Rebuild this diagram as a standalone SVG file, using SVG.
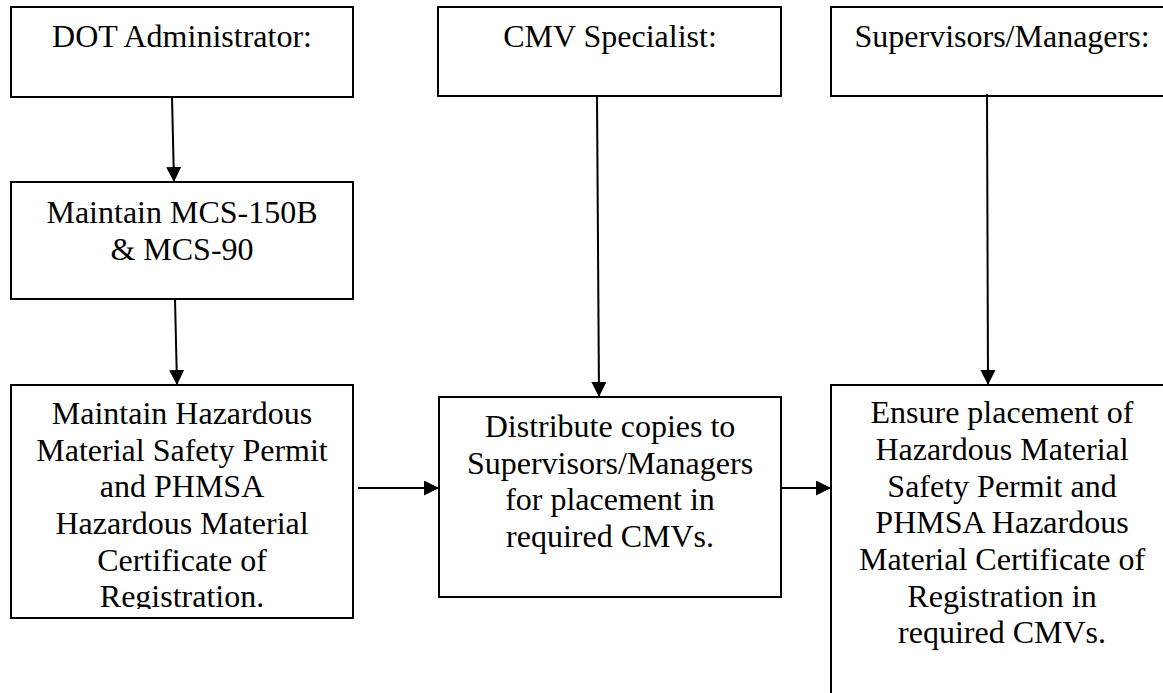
<svg xmlns="http://www.w3.org/2000/svg" width="1163" height="693" viewBox="0 0 1163 693">
<style>
  .box { fill: #ffffff; stroke: #000000; stroke-width: 2; }
  .lbl { font-family: "Liberation Serif", "Times New Roman", serif; font-size: 32px; fill: #000000; text-anchor: middle; }
  .conn { stroke: #000000; stroke-width: 2; fill: none; marker-end: url(#arrow); }
</style>
<defs>
  <marker id="arrow" markerUnits="userSpaceOnUse" markerWidth="15" markerHeight="15" viewBox="0 0 15 15" refX="15" refY="7.5" orient="auto">
    <path d="M0,0 L15,7.5 L0,15 Z" fill="#000000"/>
  </marker>
  <clipPath id="clip5">
    <rect x="11" y="385" width="342" height="224"/>
  </clipPath>
</defs>
<rect x="0" y="0" width="1163" height="693" fill="#ffffff"/>

<g id="dot-admin">
  <rect class="box" x="11" y="7" width="342" height="90"/>
  <text class="lbl" x="182" y="47">DOT Administrator:</text>
</g>
<g id="cmv-specialist">
  <rect class="box" x="438" y="7" width="343" height="89"/>
  <text class="lbl" x="610" y="47">CMV Specialist:</text>
</g>
<g id="supervisors">
  <rect class="box" x="831" y="7" width="342" height="89"/>
  <text class="lbl" x="1002" y="47">Supervisors/Managers:</text>
</g>
<g id="maintain-mcs">
  <rect class="box" x="11" y="182" width="342" height="117"/>
  <text class="lbl" x="182" y="223">Maintain MCS-150B</text>
  <text class="lbl" x="182" y="260">&amp; MCS-90</text>
</g>
<g id="maintain-hazmat">
  <rect class="box" x="11" y="385" width="342" height="233"/>
  <g clip-path="url(#clip5)">
    <text class="lbl" x="182" y="424">Maintain Hazardous</text>
    <text class="lbl" x="182" y="461">Material Safety Permit</text>
    <text class="lbl" x="182" y="497">and PHMSA</text>
    <text class="lbl" x="182" y="534">Hazardous Material</text>
    <text class="lbl" x="182" y="571">Certificate of</text>
    <text class="lbl" x="182" y="607">Registration.</text>
  </g>
</g>
<g id="distribute">
  <rect class="box" x="439" y="397" width="342" height="200"/>
  <text class="lbl" x="610" y="437">Distribute copies to</text>
  <text class="lbl" x="610" y="474">Supervisors/Managers</text>
  <text class="lbl" x="610" y="510">for placement in</text>
  <text class="lbl" x="610" y="547">required CMVs.</text>
</g>
<g id="ensure">
  <rect class="box" x="831" y="385" width="342" height="340"/>
  <text class="lbl" x="1002" y="423">Ensure placement of</text>
  <text class="lbl" x="1002" y="460">Hazardous Material</text>
  <text class="lbl" x="1002" y="497">Safety Permit and</text>
  <text class="lbl" x="1002" y="533">PHMSA Hazardous</text>
  <text class="lbl" x="1002" y="570">Material Certificate of</text>
  <text class="lbl" x="1002" y="607">Registration in</text>
  <text class="lbl" x="1002" y="643">required CMVs.</text>
</g>

<g id="connectors">
  <line class="conn" x1="172" y1="97" x2="174" y2="182"/>
  <line class="conn" x1="175" y1="299" x2="177" y2="385"/>
  <line class="conn" x1="597" y1="96" x2="599" y2="397"/>
  <line class="conn" x1="987" y1="94" x2="988" y2="385"/>
  <line class="conn" x1="358" y1="488" x2="439" y2="488"/>
  <line class="conn" x1="781" y1="488" x2="831" y2="488"/>
</g>
</svg>
